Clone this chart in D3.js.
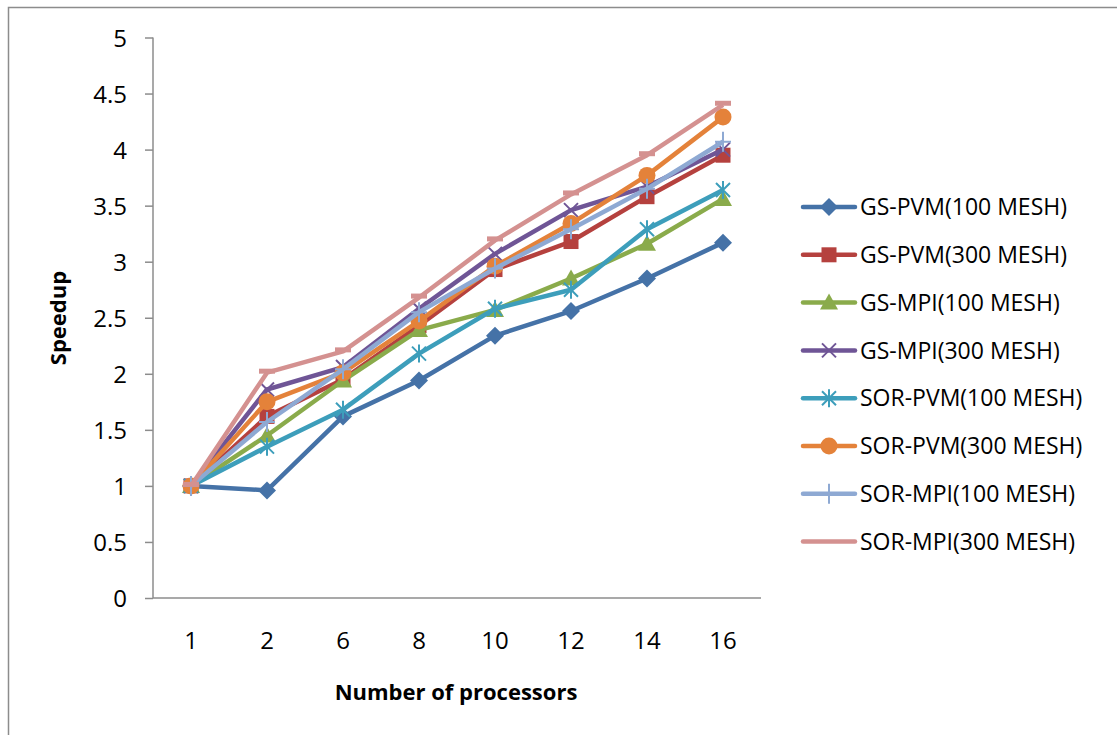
<!DOCTYPE html>
<html>
<head>
<meta charset="utf-8">
<script src="https://cdn.jsdelivr.net/npm/d3@7"></script>
<style>
  body { margin: 0; background: #fff; }
  text { font-family: "Open Sans", "DejaVu Sans", sans-serif; fill: #000; }
</style>
</head>
<body>
<script>
var width = 1117, height = 735;

// processors on the x axis
var processors = ["1", "2", "6", "8", "10", "12", "14", "16"];
var yTicks = [0, 0.5, 1, 1.5, 2, 2.5, 3, 3.5, 4, 4.5, 5];

var seriesNames = ["GS-PVM(100 MESH)", "GS-PVM(300 MESH)", "GS-MPI(100 MESH)", "GS-MPI(300 MESH)",
                   "SOR-PVM(100 MESH)", "SOR-PVM(300 MESH)", "SOR-MPI(100 MESH)", "SOR-MPI(300 MESH)"];

var gsPvm100  = [1, 0.96, 1.62, 1.94, 2.34, 2.56, 2.85, 3.17];
var gsPvm300  = [1, 1.62, 1.95, 2.43, 2.93, 3.18, 3.58, 3.95];
var gsMpi100  = [1, 1.45, 1.94, 2.39, 2.57, 2.85, 3.16, 3.56];
var gsMpi300  = [1, 1.86, 2.06, 2.58, 3.07, 3.46, 3.67, 4.0];
var sorPvm100 = [1, 1.35, 1.68, 2.18, 2.58, 2.75, 3.29, 3.64];
var sorPvm300 = [1, 1.75, 2.01, 2.47, 2.96, 3.34, 3.77, 4.29];
var sorMpi100 = [1, 1.57, 2.04, 2.55, 2.94, 3.29, 3.65, 4.07];
var sorMpi300 = [1, 2.01, 2.2, 2.68, 3.19, 3.6, 3.95, 4.4];

var colors  = ["#4572a7", "#b5413e", "#8aab4b", "#6f5596", "#3d9ebb", "#e4823a", "#8ea9d3", "#d49190"];
var markers = ["diamond", "square", "triangle", "x", "star", "circle", "plus", "dash"];

var series = [gsPvm100, gsPvm300, gsMpi100, gsMpi300, sorPvm100, sorPvm300, sorMpi100, sorMpi300]
  .map(function(v, i) { return { name: seriesNames[i], values: v, color: colors[i], marker: markers[i] }; });

var svg = d3.select("body").append("svg")
    .attr("width", width)
    .attr("height", height);

// outer chart frame (only left/top visible)
svg.append("rect")
    .attr("x", 8.5).attr("y", 7.5)
    .attr("width", width + 20).attr("height", height + 20)
    .attr("fill", "none").attr("stroke", "#8c8c8c").attr("stroke-width", 1.5);

var plot = { left: 153, right: 761, top: 37.5, bottom: 598 };

var x = d3.scaleBand().domain(processors).range([plot.left, plot.right]);
var y = d3.scaleLinear().domain([0, 5]).range([plot.bottom, plot.top]);

// y axis
var yAxis = svg.append("g")
    .attr("transform", "translate(" + plot.left + ",0)")
    .call(d3.axisLeft(y).tickValues(yTicks).tickSize(8).tickPadding(18).tickFormat(d3.format("")));
yAxis.selectAll("line, path").attr("stroke", "#8c8c8c").attr("stroke-width", 1.5);
yAxis.select("path").attr("d", "M0," + plot.top + "V" + plot.bottom);
yAxis.selectAll("text").style("font-size", "24px").attr("dy", "0.36em");

// x axis
var xAxis = svg.append("g")
    .attr("transform", "translate(0," + plot.bottom + ")")
    .call(d3.axisBottom(x).tickSize(0).tickPadding(34));
xAxis.select("path").attr("stroke", "#8c8c8c").attr("stroke-width", 1.5)
    .attr("d", "M" + plot.left + ",0H" + plot.right);
xAxis.selectAll("text").style("font-size", "24px");

svg.append("text")
    .attr("transform", "translate(66,318) rotate(-90)")
    .attr("text-anchor", "middle")
    .style("font-size", "22px").style("font-weight", "bold")
    .text("Speedup");

svg.append("text")
    .attr("x", 456).attr("y", 700)
    .attr("text-anchor", "middle")
    .style("font-size", "22px").style("font-weight", "bold")
    .text("Number of processors");

function xc(i) { return x(processors[i]) + x.bandwidth() / 2; }

var line = d3.line()
    .x(function(d, i) { return xc(i); })
    .y(function(d) { return y(d); });

function drawMarker(g, type, color) {
  if (type === "diamond") {
    g.append("path").attr("d", "M0,-9L9,0L0,9L-9,0Z").attr("fill", color);
  } else if (type === "square") {
    g.append("rect").attr("x", -7.5).attr("y", -7.5).attr("width", 15).attr("height", 15).attr("fill", color);
  } else if (type === "triangle") {
    g.append("path").attr("d", "M0,-9L9,7L-9,7Z").attr("fill", color);
  } else if (type === "circle") {
    g.append("circle").attr("r", 8.5).attr("fill", color);
  } else if (type === "x") {
    g.append("path").attr("d", "M-7,-7L7,7M-7,7L7,-7").attr("stroke", color).attr("stroke-width", 2);
  } else if (type === "star") {
    g.append("path").attr("d", "M-7,-7L7,7M-7,7L7,-7M0,-9V9").attr("stroke", color).attr("stroke-width", 2);
  } else if (type === "plus") {
    g.append("path").attr("d", "M0,-10V10M-8,0H8").attr("stroke", color).attr("stroke-width", 2);
  } else if (type === "dash") {
    g.append("rect").attr("x", -8).attr("y", -4).attr("width", 16).attr("height", 5).attr("fill", color);
  }
}

var lines = svg.append("g");
series.forEach(function(s) {
  var g = lines.append("g");
  g.append("path")
    .attr("d", line(s.values))
    .attr("fill", "none")
    .attr("stroke", s.color)
    .attr("stroke-width", 4.5)
    .attr("stroke-linejoin", "round");
  s.values.forEach(function(v, i) {
    drawMarker(g.append("g").attr("transform", "translate(" + xc(i) + "," + y(v) + ")"), s.marker, s.color);
  });
});

// legend
var legend = svg.append("g").attr("transform", "translate(801,207)");
series.forEach(function(s, i) {
  var row = legend.append("g").attr("transform", "translate(0," + (i * 47.8) + ")");
  row.append("line")
    .attr("x1", 2).attr("x2", 54)
    .attr("stroke", s.color).attr("stroke-width", 4.5).attr("stroke-linecap", "round");
  // the dash marker disappears into the line in the legend
  if (s.marker !== "dash") drawMarker(row.append("g").attr("transform", "translate(28,0)"), s.marker, s.color);
  row.append("text")
    .attr("x", 59).attr("dy", "0.36em")
    .style("font-size", "23px")
    .text(s.name);
});
</script>
</body>
</html>
